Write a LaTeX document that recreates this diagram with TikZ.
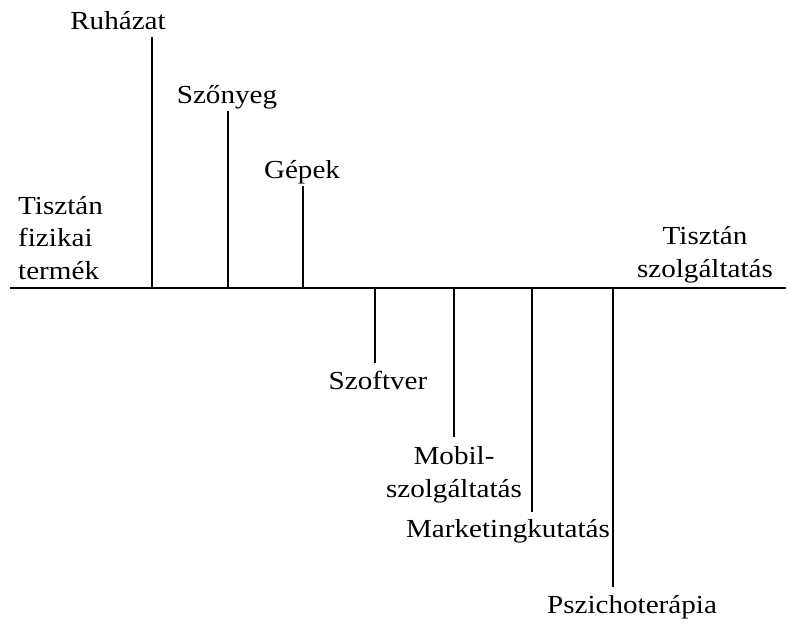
\documentclass[tikz,border=0pt]{standalone}
\usepackage{fontspec}
\setmainfont[FakeStretch=1.12]{Liberation Serif}
\usepackage{tikz}
\usetikzlibrary{positioning}
\tikzset{
  lbl/.style={
    font=\fontsize{26}{32.5}\selectfont,
    inner sep=0pt, anchor=base, align=center
  },
  lblleft/.style={lbl, anchor=base west, align=left},
  stem/.style={line width=2.2pt, draw=black},
  axisline/.style={line width=2.2pt, draw=black},
}

\begin{document}
\begin{tikzpicture}[x=1pt,y=-1pt]
  \useasboundingbox (0,0) rectangle (788,622);
  \coordinate (axl) at (10,288);
  \coordinate (axr) at (786,288);
  \draw[axisline] (axl) -- (axr);

  \node[lbl] (ruh) at (118,29) {Ruházat};
  \node[lbl] (szony) at (227,103) {Szőnyeg};
  \node[lbl] (gep) at (302,178) {Gépek};
  \node[lblleft] (fiz) at (18,279) {Tisztán\\fizikai\\termék};
  \node[lbl] (szolg) at (705,277) {Tisztán\\szolgáltatás};
  \node[lbl] (soft) at (378,389) {Szoftver};
  \node[lbl] (mob) at (454,497) {Mobil-\\szolgáltatás};
  \node[lbl] (mark) at (508,537) {Marketingkutatás};
  \node[lbl] (pszi) at (632,613) {Pszichoterápia};

  \coordinate (ruh-a) at (152,288);  \coordinate (ruh-e) at (152,37);
  \coordinate (szony-a) at (228,288); \coordinate (szony-e) at (228,111);
  \coordinate (gep-a) at (303,288);  \coordinate (gep-e) at (303,186);
  \coordinate (soft-a) at (375,288); \coordinate (soft-e) at (375,363);
  \coordinate (mob-a) at (454,288);  \coordinate (mob-e) at (454,437);
  \coordinate (mark-a) at (532,288); \coordinate (mark-e) at (532,512);
  \coordinate (pszi-a) at (613,288); \coordinate (pszi-e) at (613,587);
  \draw[stem] (ruh-a) -- (ruh-e);
  \draw[stem] (szony-a) -- (szony-e);
  \draw[stem] (gep-a) -- (gep-e);
  \draw[stem] (soft-a) -- (soft-e);
  \draw[stem] (mob-a) -- (mob-e);
  \draw[stem] (mark-a) -- (mark-e);
  \draw[stem] (pszi-a) -- (pszi-e);
\end{tikzpicture}
\end{document}
